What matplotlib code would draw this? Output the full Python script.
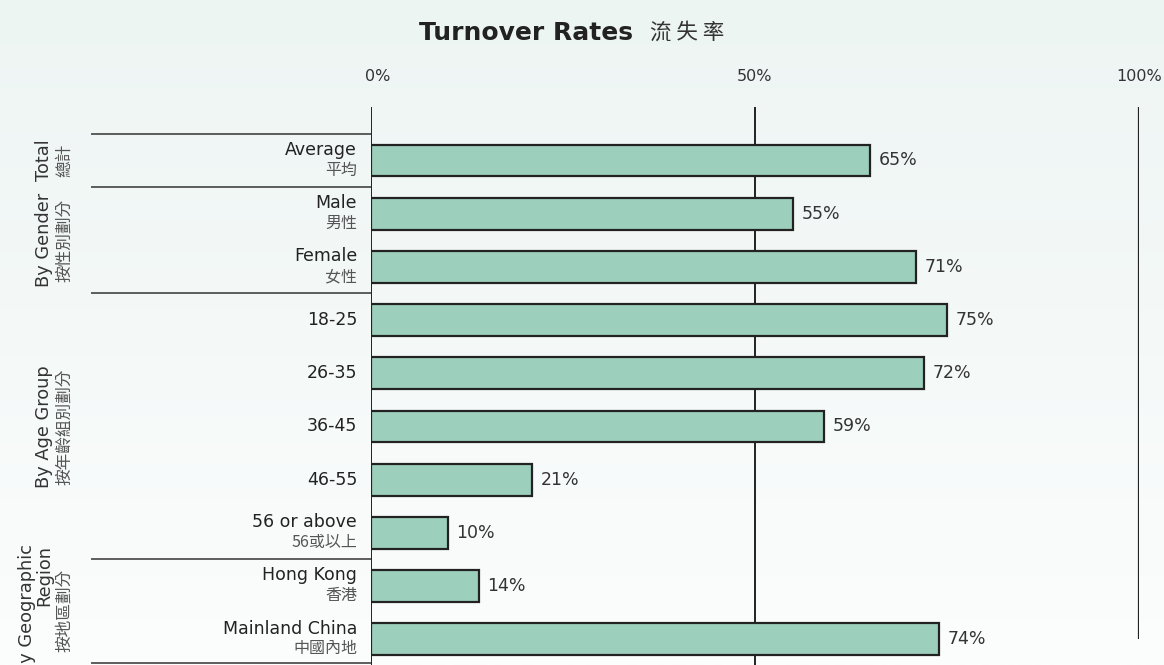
import numpy as np
import matplotlib
matplotlib.use("Agg")
import matplotlib.pyplot as plt
from matplotlib.transforms import ScaledTranslation

plt.rcParams['font.family'] = ['DejaVu Sans', 'Noto Sans CJK TC']
ZH = ['Noto Sans CJK TC', 'DejaVu Sans']

# data
cat_en = ['Average', 'Male', 'Female', '18-25', '26-35', '36-45', '46-55',
          '56 or above', 'Hong Kong', 'Mainland China']
cat_zh = ['平均', '男性', '女性', '', '', '', '', '56或以上', '香港', '中國內地']
rates = [65, 55, 71, 75, 72, 59, 21, 10, 14, 74]

group_en = ['Total', 'By Gender', 'By Age Group', 'By Geographic\nRegion']
group_zh = ['總計', '按性別劃分', '按年齡組別劃分', '按地區劃分']
group_size = [1, 2, 5, 2]

ticks = [0, 50, 100]
tick_labels = ['0%', '50%', '100%']

W, H = 1164, 665
fig = plt.figure(figsize=(W / 100, H / 100), dpi=100)

# soft background gradient
bg = fig.add_axes([0, 0, 1, 1], zorder=-10)
grad = np.linspace(0, 1, 512).reshape(-1, 1)
top_c = np.array([237, 245, 243]) / 255
bot_c = np.array([252, 253, 253]) / 255
img = top_c + (bot_c - top_c) * grad[..., None]
bg.imshow(img, aspect='auto', extent=[0, 1, 0, 1], interpolation='bilinear')
bg.axis('off')

# main axes, placed in pixel terms
x0, xw = 371, 768
y_top, y_bot = 107.3, 671.2
ax = fig.add_axes([x0 / W, (H - y_bot) / H, xw / W, (y_bot - y_top) / H])
ax.patch.set_alpha(0)
ax.set_xlim(0, 100)
ax.set_ylim(9.6, -1.0)

y = np.arange(len(rates))
ax.barh(y, rates, height=0.6, color='#9dcfbd', edgecolor='#222222',
        linewidth=1.6, zorder=3)

# reference lines
ax.vlines(0, -1.0, 9.6, color='#222222', lw=1.4, zorder=4)
ax.vlines(50, -1.0, 9.6, color='#222222', lw=1.4, zorder=1)
ax.vlines(100, -1.0, 9.0, color='#222222', lw=1.6, zorder=1)

for yi, v in zip(y, rates):
    ax.annotate(f'{v}%', (v, yi), xytext=(6, 0), textcoords='offset points',
                va='center', ha='left', fontsize=12.5, color='#333333')

# category labels
for yi, en, zh in zip(y, cat_en, cat_zh):
    if zh:
        ax.text(-1.8, yi - 0.2, en, ha='right', va='center', fontsize=12.5,
                color='#222222', clip_on=False)
        ax.text(-1.8, yi + 0.18, zh, ha='right', va='center', fontsize=11.5,
                color='#555555', family=ZH, clip_on=False)
    else:
        ax.text(-1.8, yi, en, ha='right', va='center', fontsize=12.5,
                color='#222222', clip_on=False)

# group separators and labels
bounds = np.concatenate([[-0.5], np.cumsum(group_size) - 0.5])
bounds[-1] = 9.44
ax.hlines(bounds, -36.5, 0, color='#333333', lw=1.1, clip_on=False)
for i, (en, zh) in enumerate(zip(group_en, group_zh)):
    mid = (bounds[i] + bounds[i + 1]) / 2
    if i == len(group_en) - 1:
        mid = bounds[i] + 0.95
    ax.text(-41.4, mid, en, rotation=90, ha='right', va='center',
            fontsize=12.8, color='#333333', clip_on=False, linespacing=0.95)
    ax.text(-41.0, mid, zh, rotation=90, ha='left', va='center',
            fontsize=12, color='#555555', family=ZH, clip_on=False)

ax.xaxis.tick_top()
ax.set_xticks(ticks)
ax.set_xticklabels(tick_labels)
ax.tick_params(axis='x', length=0, pad=17, labelsize=11.5, labelcolor='#333333')
lab0 = ax.get_xticklabels()[0]
lab0.set_transform(lab0.get_transform() + ScaledTranslation(0.07, 0, fig.dpi_scale_trans))
ax.set_yticks([])
for s in ax.spines.values():
    s.set_visible(False)

fig.text(526 / W, 1 - 33 / H, 'Turnover Rates', ha='center', va='center',
         fontsize=18, fontweight='bold', color='#222222')
fig.text(650 / W, 1 - 33 / H, '流 失 率', ha='left', va='center',
         fontsize=15.5, color='#333333', family=ZH)

fig.savefig('out.png', dpi=100)
